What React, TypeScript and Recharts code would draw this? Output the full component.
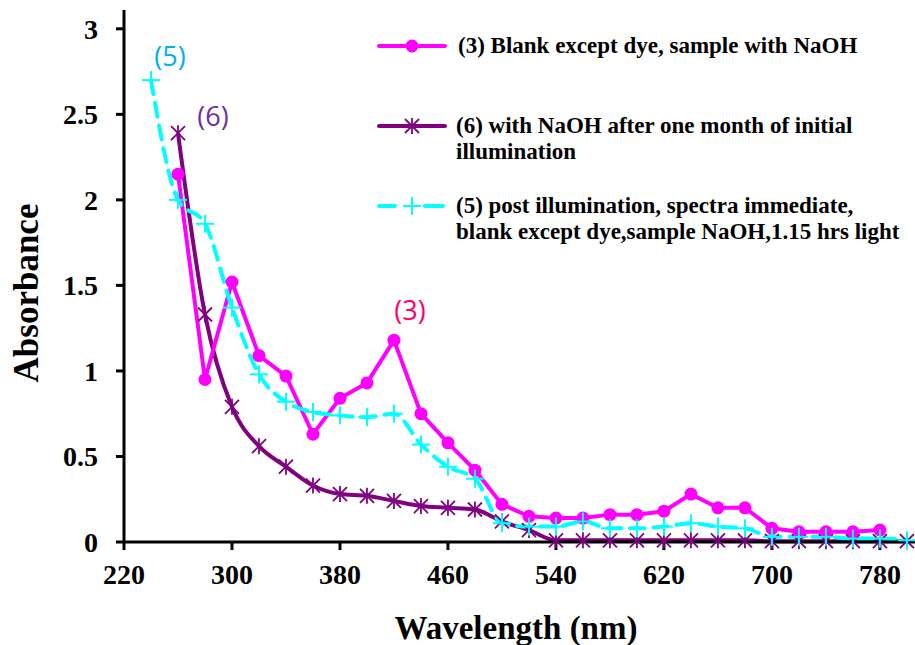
import { LineChart, Line, XAxis, YAxis, ReferenceDot } from 'recharts';

const wavelengths = [240, 260, 280, 300, 320, 340, 360, 380, 400, 420, 440, 460, 480, 500, 520, 540, 560, 580, 600, 620, 640, 660, 680, 700, 720, 740, 760, 780, 800];

// (3) Blank except dye, sample with NaOH
const blankNaOH = [null, 2.15, 0.95, 1.52, 1.09, 0.97, 0.63, 0.84, 0.93, 1.18, 0.75, 0.58, 0.42, 0.22, 0.15, 0.14, 0.14, 0.16, 0.16, 0.18, 0.28, 0.2, 0.2, 0.08, 0.06, 0.06, 0.06, 0.07, null];
// (6) with NaOH after one month
const oneMonth = [null, 2.39, 1.33, 0.79, 0.56, 0.44, 0.33, 0.28, 0.27, 0.24, 0.21, 0.2, 0.19, 0.12, 0.07, 0.01, 0.01, 0.01, 0.01, 0.01, 0.01, 0.01, 0.01, 0.005, 0.005, 0.005, 0.005, 0.005, 0.005];
// (5) post illumination, 1.15 hrs light
const postIllum = [2.7, 2.0, 1.86, 1.37, 0.98, 0.82, 0.76, 0.74, 0.73, 0.75, 0.57, 0.44, 0.37, 0.11, 0.09, 0.09, 0.12, 0.08, 0.08, 0.09, 0.11, 0.09, 0.08, 0.03, 0.03, 0.03, 0.02, 0.02, 0.01];

const xTicks = [220, 300, 380, 460, 540, 620, 700, 780];
const yTicks = [0, 0.5, 1, 1.5, 2, 2.5, 3];

const MAGENTA = '#FF00FF';
const PURPLE = '#800080';
const CYAN = '#00FFFF';
const SERIF = '"Liberation Serif", "Times New Roman", serif';
const SANS = '"Open Sans", "Noto Sans", sans-serif';

const data = wavelengths.map((wl, i) => ({
  wl,
  s3: blankNaOH[i],
  s6: oneMonth[i],
  s5: postIllum[i],
}));

function CircleDot(props: any) {
  const { cx, cy, index } = props;
  if (cx == null || cy == null) return <g key={`c${index}`} />;
  return <circle key={`c${index}`} cx={cx} cy={cy} r={6.5} fill={MAGENTA} />;
}

function StarMark({ cx, cy, k }: { cx: number; cy: number; k?: string }) {
  const s = 7;
  return (
    <g key={k} stroke={PURPLE} strokeWidth={1.8}>
      <line x1={cx - s} y1={cy - s} x2={cx + s} y2={cy + s} />
      <line x1={cx - s} y1={cy + s} x2={cx + s} y2={cy - s} />
      <line x1={cx} y1={cy - s - 1} x2={cx} y2={cy + s + 1} />
    </g>
  );
}

function StarDot(props: any) {
  const { cx, cy, index } = props;
  if (cx == null || cy == null) return <g key={`s${index}`} />;
  return <StarMark cx={cx} cy={cy} k={`s${index}`} />;
}

function PlusMark({ cx, cy, k }: { cx: number; cy: number; k?: string }) {
  const s = 9;
  return (
    <g key={k} stroke={CYAN} strokeWidth={2}>
      <line x1={cx - s} y1={cy} x2={cx + s} y2={cy} />
      <line x1={cx} y1={cy - s} x2={cx} y2={cy + s} />
    </g>
  );
}

function PlusDot(props: any) {
  const { cx, cy, index } = props;
  if (cx == null || cy == null) return <g key={`p${index}`} />;
  return <PlusMark cx={cx} cy={cy} k={`p${index}`} />;
}

const legendText: React.CSSProperties = {
  fontFamily: SERIF,
  fontWeight: 'bold',
  fontSize: 23,
  lineHeight: '26px',
  color: '#000',
  whiteSpace: 'nowrap',
};

function ChartLegend() {
  return (
    <div style={{ position: 'absolute', left: 377, top: 33 }}>
      <div style={{ display: 'flex', alignItems: 'flex-start', height: 80 }}>
        <svg width={81} height={26} style={{ flexShrink: 0 }}>
          <line x1={2} y1={13} x2={68} y2={13} stroke={MAGENTA} strokeWidth={4} strokeLinecap="round" />
          <circle cx={35} cy={13} r={6.5} fill={MAGENTA} />
        </svg>
        <div style={legendText}>(3) Blank except dye, sample with NaOH</div>
      </div>
      <div style={{ display: 'flex', alignItems: 'flex-start', height: 80 }}>
        <svg width={79} height={26} style={{ flexShrink: 0 }}>
          <line x1={2} y1={13} x2={68} y2={13} stroke={PURPLE} strokeWidth={4} strokeLinecap="round" />
          <StarMark cx={35} cy={13} />
        </svg>
        <div style={legendText}>
          (6) with NaOH after one month of initial
          <br />
          illumination
        </div>
      </div>
      <div style={{ display: 'flex', alignItems: 'flex-start' }}>
        <svg width={79} height={26} style={{ flexShrink: 0 }}>
          <line x1={2} y1={13} x2={18} y2={13} stroke={CYAN} strokeWidth={4} strokeLinecap="round" />
          <line x1={48} y1={13} x2={66} y2={13} stroke={CYAN} strokeWidth={4} strokeLinecap="round" />
          <PlusMark cx={35} cy={13} />
        </svg>
        <div style={legendText}>
          (5) post illumination, spectra immediate,
          <br />
          blank except dye,sample NaOH,1.15 hrs light
        </div>
      </div>
    </div>
  );
}

function note(text: string, color: string, dx: number, dy: number) {
  return (props: any) => {
    const vb = props.viewBox || {};
    const x = (vb.x ?? 0) + (vb.width ?? 0) / 2 + dx;
    const y = (vb.y ?? 0) + (vb.height ?? 0) / 2 + dy;
    return (
      <text x={x} y={y} fill={color} fontFamily={SANS} fontSize={27} textAnchor="middle" dominantBaseline="central">
        {text}
      </text>
    );
  };
}

export default function App() {
  return (
    <div style={{ position: 'absolute', left: 0, top: 0, width: 915, height: 645, background: '#fff' }}>
      <LineChart width={915} height={645} data={data} margin={{ top: 10, right: 0, bottom: 63, left: 64 }}>
        <XAxis
          dataKey="wl"
          type="number"
          domain={[220, 806]}
          ticks={xTicks}
          allowDataOverflow
          height={40}
          stroke="#000"
          strokeWidth={3}
          tickSize={8}
          tickMargin={14}
          tick={{ fill: '#000', fontFamily: SERIF, fontWeight: 'bold', fontSize: 28 }}
        />
        <YAxis
          type="number"
          domain={[0, 3.11]}
          ticks={yTicks}
          width={60}
          stroke="#000"
          strokeWidth={3}
          tickSize={8}
          tickMargin={18}
          tick={{ fill: '#000', fontFamily: SERIF, fontWeight: 'bold', fontSize: 28 }}
        />
        <Line
          type="monotone"
          dataKey="s6"
          stroke={PURPLE}
          strokeWidth={4}
          dot={StarDot}
          activeDot={false}
          connectNulls={false}
          isAnimationActive={false}
        />
        <Line
          type="linear"
          dataKey="s3"
          stroke={MAGENTA}
          strokeWidth={4}
          dot={CircleDot}
          activeDot={false}
          connectNulls={false}
          isAnimationActive={false}
        />
        <Line
          type="monotone"
          dataKey="s5"
          stroke={CYAN}
          strokeWidth={4}
          strokeDasharray="14 9"
          strokeLinecap="round"
          dot={PlusDot}
          activeDot={false}
          isAnimationActive={false}
        />
        <ReferenceDot x={240} y={2.7} r={0} stroke="none" label={note('(5)', '#00B0F0', 19, -25)} />
        <ReferenceDot x={260} y={2.39} r={0} stroke="none" label={note('(6)', '#7030A0', 35, -18)} />
        <ReferenceDot x={420} y={1.18} r={0} stroke="none" label={note('(3)', '#FF0066', 16, -31)} />
      </LineChart>
      <ChartLegend />
      <div
        style={{
          position: 'absolute',
          left: 27,
          top: 293,
          transform: 'translate(-50%, -50%) rotate(-90deg)',
          fontFamily: SERIF,
          fontWeight: 'bold',
          fontSize: 35,
          whiteSpace: 'nowrap',
        }}
      >
        Absorbance
      </div>
      <div
        style={{
          position: 'absolute',
          left: 516,
          top: 628,
          transform: 'translate(-50%, -50%)',
          fontFamily: SERIF,
          fontWeight: 'bold',
          fontSize: 33,
          whiteSpace: 'nowrap',
        }}
      >
        Wavelength (nm)
      </div>
    </div>
  );
}
